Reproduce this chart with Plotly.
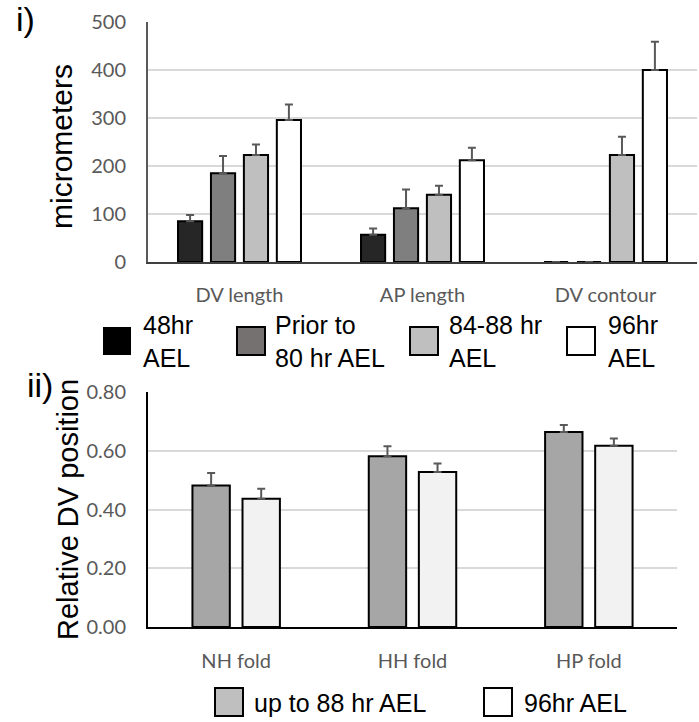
import plotly.graph_objects as go

# ---------------- data ----------------
top_categories = ["DV length", "AP length", "DV contour"]
top_series = ["48hr<br>AEL", "Prior to<br>80 hr AEL", "84-88 hr<br>AEL", "96hr<br>AEL"]
top_values = [
    [85, 57, 0],
    [185, 112, 0],
    [223, 140, 223],
    [296, 212, 400],
]
top_errors = [
    [13, 13, None],
    [36, 39, None],
    [22, 19, 38],
    [32, 26, 59],
]
top_ticks = [0, 100, 200, 300, 400, 500]

bot_categories = ["NH fold", "HH fold", "HP fold"]
bot_series = ["up to 88 hr AEL", "96hr AEL"]
bot_values = [
    [0.482, 0.581, 0.664],
    [0.437, 0.528, 0.617],
]
bot_errors = [
    [0.042, 0.034, 0.024],
    [0.034, 0.029, 0.025],
]
bot_ticks = [0.0, 0.2, 0.4, 0.6, 0.8]

# ---------------- styles ----------------
W, H = 699, 722
top_bar_colors = ["#262626", "#7f7f7f", "#bfbfbf", "#ffffff"]
top_legend_colors = ["#000000", "#767171", "#bfbfbf", "#ffffff"]
bot_bar_colors = ["#a6a6a6", "#f2f2f2"]
bot_legend_colors = ["#bfbfbf", "#ffffff"]
ERR_COLOR = "#595959"
TICK_FONT = dict(family="Lato, Liberation Sans, sans-serif", size=20, color="#595959")
ARIAL = "Liberation Sans, Arial, sans-serif"


def px(x):
    return x / W


def py(y):
    return 1 - y / H


fig = go.Figure()

# top chart bars
slot_t, w_t = 0.18, 0.132
for i, (name, vals, errs) in enumerate(zip(top_series, top_values, top_errors)):
    center = (i - 1.5) * slot_t
    fig.add_trace(go.Bar(
        x=top_categories, y=vals, name=name.replace("<br>", " "),
        xaxis="x", yaxis="y",
        width=w_t, offset=center - w_t / 2,
        marker=dict(color=top_bar_colors[i], line=dict(color="#000000", width=2)),
        error_y=dict(type="data", array=errs, arrayminus=[0] * len(errs), symmetric=False,
                     color=ERR_COLOR, thickness=2, width=4),
        showlegend=False,
    ))

# bottom chart bars
slot_b, w_b = 0.284, 0.212
for i, (name, vals, errs) in enumerate(zip(bot_series, bot_values, bot_errors)):
    center = (i - 0.5) * slot_b
    fig.add_trace(go.Bar(
        x=bot_categories, y=vals, name=name,
        xaxis="x2", yaxis="y2",
        width=w_b, offset=center - w_b / 2,
        marker=dict(color=bot_bar_colors[i], line=dict(color="#000000", width=2)),
        error_y=dict(type="data", array=errs, arrayminus=[0] * len(errs), symmetric=False,
                     color=ERR_COLOR, thickness=2, width=4),
        showlegend=False,
    ))

shapes = []
annotations = []

# manual legend (top)
top_sq_x = [103, 237, 410, 567]
top_txt_x = [141, 273, 447, 606]
for i, name in enumerate(top_series):
    shapes.append(dict(type="rect", xref="paper", yref="paper",
                       x0=px(top_sq_x[i]), x1=px(top_sq_x[i] + 28),
                       y0=py(327), y1=py(355),
                       fillcolor=top_legend_colors[i],
                       line=dict(color="#000000", width=2 if i else 0)))
    annotations.append(dict(x=px(top_txt_x[i]), y=py(342), xref="paper", yref="paper",
                            xanchor="left", yanchor="middle", align="left",
                            text=name, showarrow=False,
                            font=dict(family=ARIAL, size=25, color="#000000")))

# manual legend (bottom)
bot_sq_x = [215, 484]
bot_txt_x = [252, 522]
for i, name in enumerate(bot_series):
    shapes.append(dict(type="rect", xref="paper", yref="paper",
                       x0=px(bot_sq_x[i]), x1=px(bot_sq_x[i] + 28),
                       y0=py(688), y1=py(716),
                       fillcolor=bot_legend_colors[i],
                       line=dict(color="#000000", width=2)))
    annotations.append(dict(x=px(bot_txt_x[i]), y=py(703), xref="paper", yref="paper",
                            xanchor="left", yanchor="middle", align="left",
                            text=name, showarrow=False,
                            font=dict(family=ARIAL, size=25, color="#000000")))

# panel labels & axis titles
annotations += [
    dict(x=px(14), y=py(19), xref="paper", yref="paper", xanchor="left", yanchor="middle",
         text="i)", showarrow=False, font=dict(family=ARIAL, size=34, color="#000000")),
    dict(x=px(25), y=py(385), xref="paper", yref="paper", xanchor="left", yanchor="middle",
         text="ii)", showarrow=False, font=dict(family=ARIAL, size=34, color="#000000")),
    dict(x=px(62), y=py(147), xref="paper", yref="paper", xanchor="center", yanchor="middle",
         text="micrometers", textangle=-90, showarrow=False,
         font=dict(family=ARIAL, size=30, color="#000000")),
    dict(x=px(68), y=py(510), xref="paper", yref="paper", xanchor="center", yanchor="middle",
         text="Relative DV position", textangle=-90, showarrow=False,
         font=dict(family=ARIAL, size=29, color="#000000")),
]

fig.update_layout(
    width=W, height=H,
    margin=dict(l=0, r=0, t=0, b=0, autoexpand=False),
    paper_bgcolor="#ffffff", plot_bgcolor="#ffffff",
    barmode="overlay",
    showlegend=False,
    xaxis=dict(domain=[px(148), px(697)], anchor="y", automargin=False,
               showline=True, linecolor="#404040", linewidth=2,
               ticks="", tickfont=TICK_FONT, ticklabelstandoff=14,
               showgrid=False, zeroline=False),
    yaxis=dict(domain=[py(262), py(22)], anchor="x", range=[0, 500], automargin=False,
               tickvals=top_ticks, showline=True, linecolor="#595959", linewidth=2,
               showgrid=True, gridcolor="#d9d9d9", gridwidth=2,
               zeroline=False, ticks="", tickfont=TICK_FONT, ticklabelstandoff=16),
    xaxis2=dict(domain=[px(148), px(677)], anchor="y2", automargin=False,
                showline=True, linecolor="#000000", linewidth=2,
                ticks="", tickfont=TICK_FONT, ticklabelstandoff=15,
                showgrid=False, zeroline=False),
    yaxis2=dict(domain=[py(627), py(392)], anchor="x2", range=[0, 0.8], automargin=False,
                tickvals=bot_ticks, tickformat=".2f",
                showline=True, linecolor="#000000", linewidth=2,
                showgrid=True, gridcolor="#d9d9d9", gridwidth=2,
                zeroline=False, ticks="", tickfont=TICK_FONT, ticklabelstandoff=16),
    shapes=shapes,
    annotations=annotations,
)

fig.write_html(
    "out.html",
    config={"displayModeBar": False},
    post_script="document.body.style.margin='0px';document.body.style.overflow='hidden';",
)
